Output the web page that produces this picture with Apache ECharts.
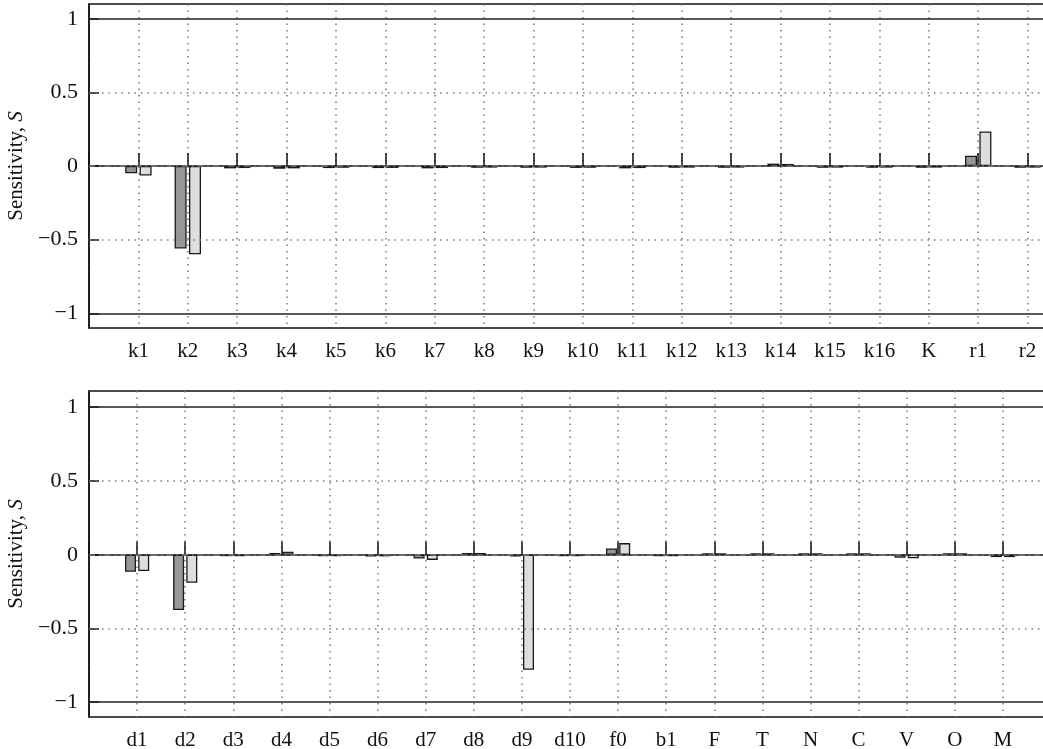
<!DOCTYPE html>
<html>
<head>
<meta charset="utf-8">
<script src="https://cdn.jsdelivr.net/npm/echarts@6/dist/echarts.min.js"></script>
<style>
html,body{margin:0;padding:0;background:#fff;}
#chart{width:1043px;height:749px;}
</style>
</head>
<body>
<div id="chart"></div>
<script>
// ---- data ----
var catsTop = ['k1','k2','k3','k4','k5','k6','k7','k8','k9','k10','k11','k12','k13','k14','k15','k16','K','r1','r2'];
var darkTop = [-0.05,-0.56,-0.016,-0.018,-0.014,-0.014,-0.016,-0.012,-0.012,-0.013,-0.016,-0.012,-0.012,0.016,-0.012,-0.012,-0.012,0.07,-0.012];
var lightTop = [-0.065,-0.60,-0.014,-0.016,-0.012,-0.013,-0.014,-0.011,-0.011,-0.012,-0.014,-0.011,-0.011,0.014,-0.011,-0.011,-0.011,0.235,-0.011];

var catsBot = ['d1','d2','d3','d4','d5','d6','d7','d8','d9','d10','f0','b1','F','T','N','C','V','O','M'];
var darkBot = [-0.115,-0.375,-0.010,0.012,-0.010,-0.012,-0.025,0.012,-0.012,-0.010,0.043,-0.010,0.010,0.010,0.010,0.010,-0.020,0.010,-0.016];
var lightBot = [-0.11,-0.19,-0.010,0.020,-0.010,-0.011,-0.035,0.012,-0.78,-0.010,0.079,-0.010,0.010,0.010,0.010,0.010,-0.024,0.010,-0.016];

var yTicks = [-1,-0.5,0,0.5,1];

// ---- helpers ----
function pad(a){ return [''].concat(a).concat(['']); }
function padV(a){ return ['-'].concat(a).concat(['-']); }
var serif = '"Liberation Serif","DejaVu Serif",serif';

function xAxisCfg(gi, cats){
  return {
    type:'category', gridIndex:gi, data:pad(cats), boundaryGap:false,
    axisLine:{show:true, lineStyle:{color:'#111', width:1.5}},
    axisTick:{show:true, inside:true, length:13, interval:0, lineStyle:{color:'#111', width:1.5}},
    axisLabel:{interval:0, color:'#111', fontFamily:serif, fontSize:21, margin:13},
    splitLine:{show:true, interval:0, lineStyle:{color:'#777', width:1.5, type:[1.5,5]}}
  };
}
function yAxisCfg(gi, mx){
  return {
    type:'value', gridIndex:gi, min:-1.1, max:mx,
    name:'{a|Sensitivity, }{b|S}', nameLocation:'middle', nameRotate:90, nameGap:54,
    nameTextStyle:{rich:{a:{fontFamily:serif, fontSize:21, color:'#111'}, b:{fontFamily:serif, fontSize:21, fontStyle:'italic', color:'#111'}}},
    axisLine:{show:true, lineStyle:{color:'#111', width:1.5}},
    axisTick:{show:true, inside:true, length:10, customValues:yTicks, lineStyle:{color:'#111', width:1.5}},
    axisLabel:{customValues:yTicks, color:'#111', fontFamily:serif, fontSize:22, margin:11,
      formatter:function(v){ return String(v).replace('-', '\u2212'); }},
    splitLine:{show:false}
  };
}
function refLines(xi){
  var dotted = {color:'#777', width:1.5, type:[1.5,5]};
  var dashdot = {color:'#777', width:1.5, type:[6,4,1.5,4]};
  var solid = {color:'#222', width:1.5, type:'solid'};
  return {
    type:'line', xAxisIndex:xi, yAxisIndex:xi, data:[], z:1, silent:true,
    markLine:{symbol:'none', silent:true, label:{show:false}, animation:false,
      data:[
        {yAxis:1, lineStyle:solid},
        {yAxis:-1, lineStyle:solid},
        {yAxis:0.5, lineStyle:dotted},
        {yAxis:0, lineStyle:dashdot},
        {yAxis:-0.5, lineStyle:dotted}
      ]}
  };
}
function bars(xi, vals, fill, gap){
  return {
    type:'bar', xAxisIndex:xi, yAxisIndex:xi, data:padV(vals), z:3,
    barWidth:xi===0?12:11, barGap:gap,
    itemStyle:{color:fill, borderColor:'#1a1a1a', borderWidth:1.3},
    animation:false
  };
}

var chart = echarts.init(document.getElementById('chart'), null, {renderer:'canvas'});
chart.setOption({
  animation:false,
  backgroundColor:'#fff',
  grid:[
    {left:89, top:4, height:324, width:988, outerBoundsMode:'none', containLabel:false, show:true, borderColor:'#111', borderWidth:1.5, backgroundColor:'transparent'},
    {left:89, top:391, height:326, width:962, outerBoundsMode:'none', containLabel:false, show:true, borderColor:'#111', borderWidth:1.5, backgroundColor:'transparent'}
  ],
  xAxis:[xAxisCfg(0, catsTop), xAxisCfg(1, catsBot)],
  yAxis:[yAxisCfg(0, 1.1), yAxisCfg(1, 1.11)],
  series:[
    refLines(0), refLines(1),
    bars(0, darkTop, '#979797', '20%'), bars(0, lightTop, '#dedede', '20%'),
    bars(1, darkBot, '#979797', '20%'), bars(1, lightBot, '#dedede', '20%')
  ]
});
</script>
</body>
</html>
